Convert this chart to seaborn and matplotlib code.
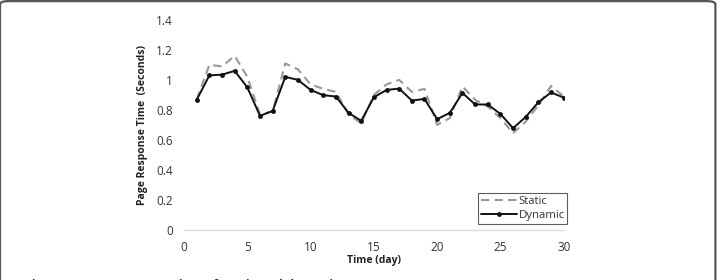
import numpy as np
import pandas as pd
import matplotlib
matplotlib.use("Agg")
import matplotlib.pyplot as plt
import seaborn as sns
from matplotlib.patches import FancyBboxPatch

days = list(range(1, 31))
static = [0.87, 1.10, 1.09, 1.16, 1.02, 0.77, 0.79, 1.11, 1.07, 0.97,
          0.94, 0.92, 0.77, 0.71, 0.90, 0.97, 1.00, 0.92, 0.94, 0.70,
          0.745, 0.956, 0.867, 0.822, 0.745, 0.645, 0.722, 0.83, 0.96, 0.89]
dynamic = [0.867, 1.03, 1.035, 1.06, 0.95, 0.76, 0.793, 1.02, 1.00, 0.933,
           0.898, 0.889, 0.78, 0.727, 0.884, 0.933, 0.942, 0.862, 0.873, 0.738,
           0.78, 0.913, 0.836, 0.836, 0.773, 0.678, 0.753, 0.851, 0.916, 0.882]
x_ticks = [0, 5, 10, 15, 20, 25, 30]
y_ticks = [0, 0.2, 0.4, 0.6, 0.8, 1.0, 1.2, 1.4]
y_tick_labels = ["0", "0.2", "0.4", "0.6", "0.8", "1", "1.2", "1.4"]

sns.set_theme(style="white")
plt.rcParams["font.family"] = ["Open Sans", "DejaVu Sans"]

fig = plt.figure(figsize=(7.19, 2.8), dpi=100)
ax = fig.add_axes([0.256, 0.179, 0.528, 0.75])

df = pd.DataFrame({"day": days * 2,
                   "value": static + dynamic,
                   "series": ["Static"] * 30 + ["Dynamic"] * 30})

sns.lineplot(data=df[df.series == "Static"], x="day", y="value", ax=ax,
             color="#999999", linewidth=1.5, linestyle=(0, (4, 2.5)), label="Static")
sns.lineplot(data=df[df.series == "Dynamic"], x="day", y="value", ax=ax,
             color="#111111", linewidth=1.4, marker="o", markersize=3.5,
             markeredgewidth=0, label="Dynamic")

ax.set_xlim(0, 30)
ax.set_ylim(0, 1.4)
ax.set_xticks(x_ticks)
ax.set_yticks(y_ticks)
ax.set_yticklabels(y_tick_labels)
ax.tick_params(axis="both", length=0, labelsize=8.5, colors="#333333", pad=8)
for s in ["top", "right", "left"]:
    ax.spines[s].set_visible(False)
ax.spines["bottom"].set_color("#dddddd")
ax.spines["bottom"].set_linewidth(1)

ax.set_xlabel("Time (day)", fontsize=7.5, fontweight="bold", color="#222222", labelpad=1)
ax.set_ylabel("Page Response Time  (Seconds)", fontsize=7.5, fontweight="bold",
              color="#222222", labelpad=6)

leg = ax.legend(loc="lower right", bbox_to_anchor=(1.01, 0.03), fontsize=8.2,
                frameon=True, fancybox=False, handlelength=3.2, handletextpad=0.1,
                borderpad=0.25, labelspacing=0.25, borderaxespad=0)
leg.get_frame().set_edgecolor("#333333")
leg.get_frame().set_linewidth(0.8)
for t in leg.get_texts():
    t.set_color("#333333")

frame = FancyBboxPatch((0.0, -0.2), 0.995, 1.196, boxstyle="round,pad=0,rounding_size=0.012",
                       transform=fig.transFigure, fill=False, edgecolor="#555555",
                       linewidth=1.6, clip_on=False)
fig.patches.append(frame)

fig.text(0.035, -0.042, "Figure 6  Page response time of static and dynamic",
         fontsize=9, fontweight="bold", color="#333333", va="bottom")

fig.savefig("out.png", dpi=100)
